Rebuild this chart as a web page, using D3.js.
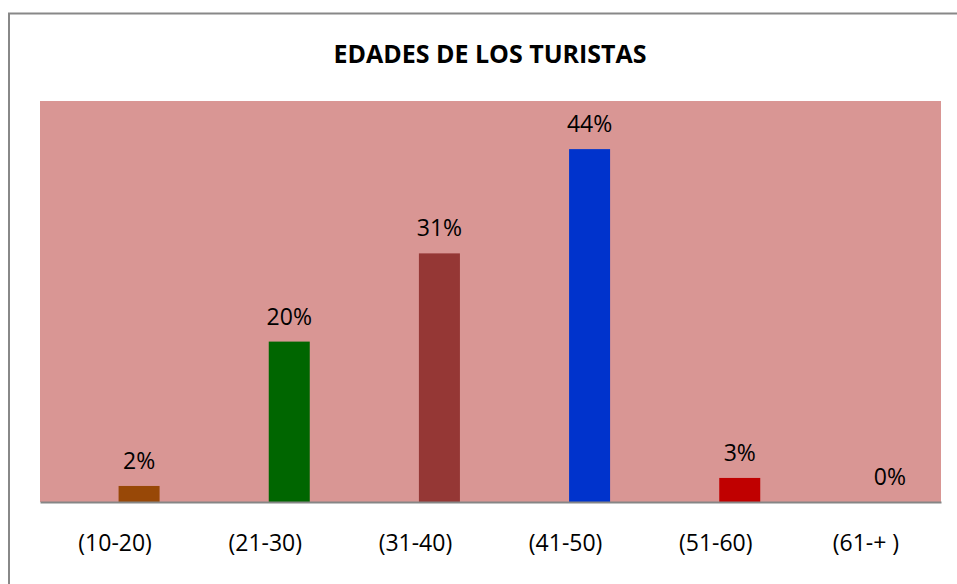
<!DOCTYPE html>
<html>
<head>
<meta charset="utf-8">
<script src="https://cdn.jsdelivr.net/npm/d3@7"></script>
<style>
  body { margin: 0; background: #fff; }
  text { font-family: "Open Sans", "Noto Sans", sans-serif; fill: #000; }
</style>
</head>
<body>
<svg width="957" height="584"></svg>
<script>
// data
var categories = ["(10-20)", "(21-30)", "(31-40)", "(41-50)", "(51-60)", "(61-+ )"];
var values = [0.02, 0.20, 0.31, 0.44, 0.03, 0.00];
var barColors = ["#984807", "#006600", "#953735", "#0033CC", "#C00000", "#7F7F7F"];
var titleText = "EDADES DE LOS TURISTAS";

var svg = d3.select("svg"),
	width = +svg.attr("width"),
	height = +svg.attr("height");

var plot = {left: 40, right: 941, top: 101, bottom: 502};

// outer chart border
svg.append("rect")
	.attr("x", 9)
	.attr("y", 13.5)
	.attr("width", 980)
	.attr("height", 620)
	.attr("fill", "none")
	.attr("stroke", "#888")
	.attr("stroke-width", 2);

svg.append("text")
	.attr("x", 490)
	.attr("y", 63)
	.attr("text-anchor", "middle")
	.style("font-weight", "bold")
	.style("font-size", "25px")
	.text(titleText);

var x = d3.scaleBand()
	.domain(categories)
	.range([plot.left, plot.right]);

var y = d3.scaleLinear()
	.domain([0, 0.5])
	.range([plot.bottom, plot.top]);

svg.append("rect")
	.attr("x", plot.left)
	.attr("y", plot.top)
	.attr("width", plot.right - plot.left)
	.attr("height", plot.bottom - plot.top)
	.attr("fill", "#D99694");

// bars sit right of the band centre, like the excel original
var barW = 41, barShift = 24;

svg.selectAll(".bar")
	.data(values)
	.enter()
	.append("rect")
	.attr("class", "bar")
	.attr("x", function (d, i) { return x(categories[i]) + x.bandwidth() / 2 + barShift - barW / 2; })
	.attr("y", function (d) { return y(d); })
	.attr("width", barW)
	.attr("height", function (d) { return y(0) - y(d); })
	.attr("fill", function (d, i) { return barColors[i]; });

svg.selectAll(".lbl")
	.data(values)
	.enter()
	.append("text")
	.attr("class", "lbl")
	.attr("x", function (d, i) { return x(categories[i]) + x.bandwidth() / 2 + barShift; })
	.attr("y", function (d) { return y(d) - 17; })
	.attr("text-anchor", "middle")
	.style("font-size", "23px")
	.text(function (d) { return Math.round(d * 100) + "%"; });

var axis = svg.append("g")
	.attr("transform", "translate(0," + plot.bottom + ")")
	.call(d3.axisBottom(x).tickSize(0).tickPadding(33));

axis.select(".domain").attr("stroke", "#868686").attr("stroke-width", 2);
axis.selectAll("text")
	.style("font-family", "\"Open Sans\", sans-serif")
	.style("font-size", "23px")
	.attr("fill", "#000");
</script>
</body>
</html>
